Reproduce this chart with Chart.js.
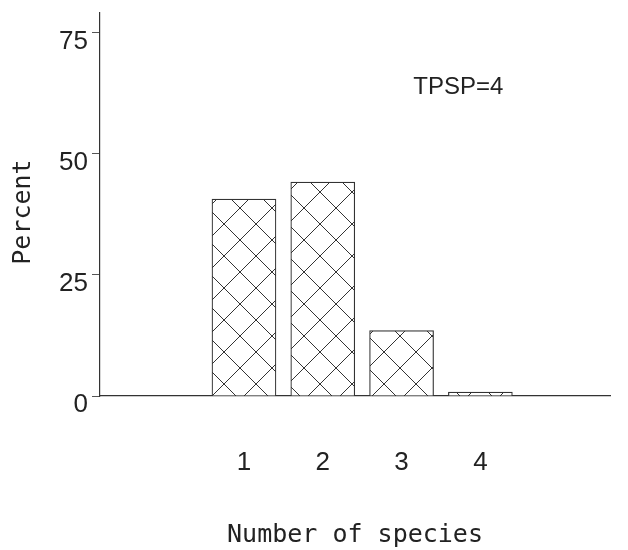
<!DOCTYPE html>
<html lang="en">
<head>
    <meta charset="UTF-8">
    <title>Number of species</title>
    <script src="https://cdn.jsdelivr.net/npm/chart.js"></script>
    <style>
        body { margin: 0; background: #fff; }
        #wrap { width: 628px; height: 550px; position: relative; }
    </style>
</head>
<body>
    <div id="wrap"><canvas id="speciesChart"></canvas></div>

    <script>
        // values
        const speciesCount = [1, 2, 3, 4];
        const percent = [40.6, 44.1, 13.5, 0.8];
        const yTicks = [0, 25, 50, 75];
        const noteText = "TPSP=4";
        const notePos = { x: 3.72, y: 63.6 };

        // cross hatch fill like the original plot
        function hatch() {
            const c = document.createElement("canvas");
            c.width = 32; c.height = 32;
            const g = c.getContext("2d");
            g.fillStyle = "#fff";
            g.fillRect(0, 0, 32, 32);
            g.strokeStyle = "#333";
            g.lineWidth = 1;
            g.beginPath();
            g.moveTo(-1, -1); g.lineTo(33, 33);
            g.moveTo(33, -1); g.lineTo(-1, 33);
            g.stroke();
            return g.createPattern(c, "repeat");
        }

        const notePlugin = {
            id: "note",
            afterDraw(chart) {
                const { ctx, scales } = chart;
                ctx.save();
                ctx.font = "24px 'Liberation Sans', Arial, sans-serif";
                ctx.fillStyle = "#222";
                ctx.textAlign = "center";
                ctx.textBaseline = "middle";
                ctx.fillText(noteText, scales.x.getPixelForValue(notePos.x), scales.y.getPixelForValue(notePos.y));
                ctx.restore();
            }
        };

        const sansFont = "'Liberation Sans', Arial, sans-serif";
        const monoFont = "'DejaVu Sans Mono', monospace";

        const ctx = document.getElementById("speciesChart").getContext("2d");
        new Chart(ctx, {
            type: "bar",
            data: {
                datasets: [{
                    data: speciesCount.map((s, i) => ({ x: s, y: percent[i] })),
                    backgroundColor: hatch(),
                    borderColor: "#333",
                    borderWidth: 1.2,
                    barThickness: 64
                }]
            },
            options: {
                responsive: true,
                maintainAspectRatio: false,
                animation: false,
                layout: { padding: { top: 13, right: 18, bottom: 0, left: 0 } },
                plugins: { legend: { display: false }, tooltip: { enabled: false } },
                scales: {
                    x: {
                        type: "linear",
                        offset: false,
                        min: -0.827,
                        max: 5.645,
                        afterBuildTicks: s => { s.ticks = speciesCount.map(v => ({ value: v })); },
                        afterFit: s => { s.height = 154; s.paddingLeft = 0; s.paddingRight = 0; },
                        grid: { display: false },
                        border: { display: true, color: "#333", width: 1.2 },
                        ticks: {
                            color: "#222",
                            padding: 43,
                            font: { family: sansFont, size: 26 }
                        },
                        title: {
                            display: true,
                            text: "Number of species",
                            color: "#222",
                            padding: { top: 0, bottom: 0 },
                            font: { family: monoFont, size: 25 }
                        }
                    },
                    y: {
                        min: 0,
                        max: 79,
                        afterBuildTicks: s => { s.ticks = yTicks.map(v => ({ value: v })); },
                        afterFit: s => { s.width = 100; s.paddingTop = 0; s.paddingBottom = 0; },
                        grid: { drawOnChartArea: false, drawTicks: true, tickLength: 8, color: "#555" },
                        border: { display: true, color: "#333", width: 1.2 },
                        ticks: {
                            color: "#222",
                            padding: 4,
                            labelOffset: 9,
                            font: { family: sansFont, size: 26 }
                        },
                        title: {
                            display: true,
                            text: "Percent ",
                            color: "#222",
                            padding: { top: 8, bottom: 0 },
                            font: { family: monoFont, size: 25 }
                        }
                    }
                }
            },
            plugins: [notePlugin]
        });
    </script>
</body>
</html>
